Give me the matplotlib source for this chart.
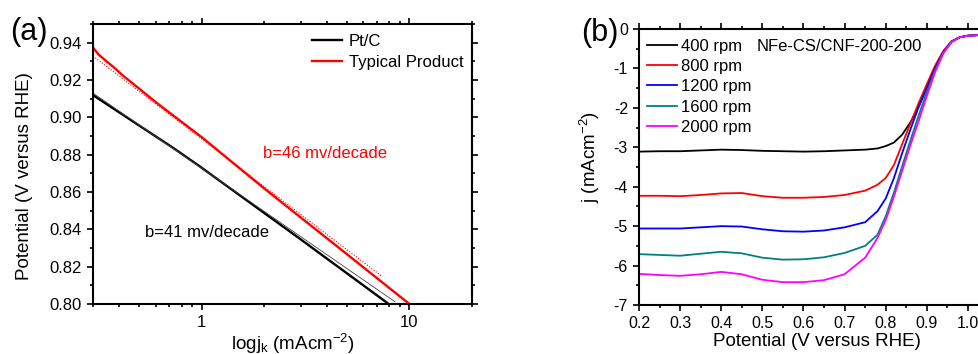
import matplotlib
matplotlib.use("Agg")
import matplotlib.pyplot as plt
from matplotlib.ticker import MultipleLocator, LogLocator, NullFormatter, FixedLocator, FixedFormatter, FuncFormatter

plt.rcParams['font.family'] = ['Liberation Sans', 'DejaVu Sans']
plt.rcParams['mathtext.fontset'] = 'custom'
plt.rcParams['mathtext.rm'] = 'Liberation Sans'
plt.rcParams['mathtext.it'] = 'Liberation Sans:italic'
plt.rcParams['mathtext.bf'] = 'Liberation Sans:bold'

# ---------------- Panel (a) data: Tafel plots ----------------
ptc_jk = [0.30, 0.73, 0.98, 3.0, 7.95]
ptc_E = [0.9119, 0.8836, 0.8737, 0.8346, 0.800]
ptc_fit_jk = [0.30, 8.5]
ptc_fit_E = [0.9130, 0.8013]

prod_jk = [0.30, 0.32, 0.35, 0.374, 0.42, 0.607, 1.0, 2.0, 5.0, 10.0]
prod_E = [0.9373, 0.9335, 0.9298, 0.9272, 0.9222, 0.9078, 0.8894, 0.8619, 0.8267, 0.800]
prod_fit_jk = [0.30, 7.4]
prod_fit_E = [0.9328, 0.8147]

# ---------------- Panel (b) data: LSV curves ----------------
potential = [0.20, 0.25, 0.30, 0.35, 0.40, 0.45, 0.50, 0.55, 0.60, 0.65, 0.70, 0.75,
             0.78, 0.80, 0.82, 0.84, 0.86, 0.88, 0.90, 0.92, 0.94, 0.96, 0.98, 1.00, 1.05, 1.10]
j_400 = [-3.11, -3.10, -3.10, -3.08, -3.06, -3.07, -3.09, -3.10, -3.11, -3.10, -3.08, -3.06,
         -3.03, -2.97, -2.88, -2.68, -2.37, -1.97, -1.48, -0.98, -0.58, -0.32, -0.21, -0.17, -0.14, -0.13]
j_800 = [-4.23, -4.23, -4.24, -4.21, -4.17, -4.16, -4.24, -4.28, -4.28, -4.26, -4.21, -4.10,
         -3.95, -3.78, -3.45, -2.92, -2.40, -1.88, -1.40, -0.93, -0.56, -0.31, -0.21, -0.17, -0.14, -0.13]
j_1200 = [-5.06, -5.06, -5.06, -5.03, -5.00, -5.01, -5.08, -5.13, -5.14, -5.11, -5.03, -4.90,
          -4.62, -4.30, -3.78, -3.15, -2.55, -1.98, -1.50, -1.00, -0.59, -0.32, -0.21, -0.17, -0.14, -0.13]
j_1600 = [-5.71, -5.73, -5.75, -5.70, -5.65, -5.69, -5.80, -5.85, -5.84, -5.79, -5.68, -5.50,
          -5.22, -4.75, -4.15, -3.48, -2.83, -2.20, -1.60, -1.05, -0.61, -0.33, -0.21, -0.17, -0.14, -0.13]
j_2000 = [-6.21, -6.24, -6.26, -6.22, -6.16, -6.22, -6.36, -6.42, -6.42, -6.37, -6.22, -5.80,
          -5.30, -4.85, -4.25, -3.60, -2.95, -2.34, -1.70, -1.10, -0.62, -0.33, -0.21, -0.17, -0.14, -0.13]
series_b = [j_400, j_800, j_1200, j_1600, j_2000]
labels_b = ['400 rpm', '800 rpm', '1200 rpm', '1600 rpm', '2000 rpm']
colors_b = ['#000000', '#ff0000', '#0000ff', '#008080', '#ff00ff']

fig = plt.figure(figsize=(9.79, 3.54), dpi=100)

def style_axes(ax, fs):
    for s in ax.spines.values():
        s.set_linewidth(1.5)
    ax.tick_params(which='both', direction='out', top=True, right=True, width=1.2,
                   labelsize=fs, labeltop=False, labelright=False)
    ax.tick_params(which='major', length=4.5)
    ax.tick_params(which='minor', length=2.5)

# ---- Panel (a)
axa = fig.add_axes([0.095, 0.1412, 0.3871, 0.791])
axa.plot(ptc_jk, ptc_E, color='black', lw=1.7, label='Pt/C')
axa.plot(prod_jk, prod_E, color='#ff0000', lw=1.7, label='Typical Product')
axa.plot(ptc_fit_jk, ptc_fit_E, color='#444444', lw=0.6)
axa.plot(prod_fit_jk, prod_fit_E, color='#ff0000', lw=0.8, ls=(0, (1, 1.5)))
axa.set_xscale('log')
axa.set_xlim(0.3, 20)
axa.set_ylim(0.80, 0.95)
axa.xaxis.set_major_locator(FixedLocator([1, 10]))
axa.xaxis.set_major_formatter(FixedFormatter(['1', '10']))
axa.xaxis.set_minor_locator(LogLocator(base=10, subs=range(2, 10)))
axa.xaxis.set_minor_formatter(NullFormatter())
axa.yaxis.set_major_locator(FixedLocator([0.80, 0.82, 0.84, 0.86, 0.88, 0.90, 0.92, 0.94]))
axa.yaxis.set_major_formatter(FixedFormatter(['0.80', '0.82', '0.84', '0.86', '0.88', '0.90', '0.92', '0.94']))
axa.yaxis.set_minor_locator(MultipleLocator(0.01))
style_axes(axa, 12)
axa.set_xlabel(r'logj$\mathregular{_k}$ (mAcm$\mathregular{^{-2}}$)', fontsize=13.5, labelpad=1)
axa.set_ylabel('Potential (V versus RHE)', fontsize=13.5)
axa.xaxis.label.set_x(0.528)
axa.yaxis.set_label_coords(-0.158, 0.457)
axa.legend(loc='upper left', bbox_to_anchor=(0.578, 0.965), frameon=False, fontsize=12,
           handlelength=1.8, handletextpad=0.4, labelspacing=0.36, borderpad=0, borderaxespad=0)
axa.text(0.449, 0.539, 'b=46 mv/decade', color='#ff0000', fontsize=12,
         transform=axa.transAxes, ha='left', va='center')
axa.text(0.137, 0.257, 'b=41 mv/decade', color='black', fontsize=12,
         transform=axa.transAxes, ha='left', va='center')
fig.text(10 / 979, 1 - 32 / 354, '(a)', fontsize=22, ha='left', va='center')

# ---- Panel (b)
axb = fig.add_axes([0.6527, 0.1384, 0.378, 0.7797])
for ys, lab, c in zip(series_b, labels_b, colors_b):
    axb.plot(potential, ys, color=c, lw=1.3, label=lab)
axb.set_xlim(0.2, 1.1)
axb.set_ylim(-7, 0)
axb.xaxis.set_major_locator(MultipleLocator(0.1))
axb.xaxis.set_minor_locator(MultipleLocator(0.05))
axb.yaxis.set_major_locator(MultipleLocator(1))
axb.yaxis.set_minor_locator(MultipleLocator(0.5))
axb.xaxis.set_major_formatter(FuncFormatter(lambda v, p: f'{v:.1f}'))
axb.yaxis.set_major_formatter(FuncFormatter(lambda v, p: '0' if abs(v) < 1e-9 else f'{v:.0f}'))
style_axes(axb, 11.5)
axb.set_xlabel('Potential (V versus RHE)', fontsize=13.5, labelpad=1)
axb.set_ylabel(r'j (mAcm$\mathregular{^{-2}}$)', fontsize=13.5)
axb.xaxis.label.set_x(0.481)
axb.yaxis.set_label_coords(-0.1, 0.536)
axb.legend(loc='upper left', bbox_to_anchor=(0.022, 0.965), frameon=False, fontsize=12,
           handlelength=1.8, handletextpad=0.25, labelspacing=0.32, borderpad=0, borderaxespad=0)
axb.text(0.319, 0.935, 'NFe-CS/CNF-200-200', fontsize=12, transform=axb.transAxes,
         ha='left', va='center')
fig.text(581 / 979, 1 - 33 / 354, '(b)', fontsize=22, ha='left', va='center')

fig.savefig('out.png', dpi=100)
